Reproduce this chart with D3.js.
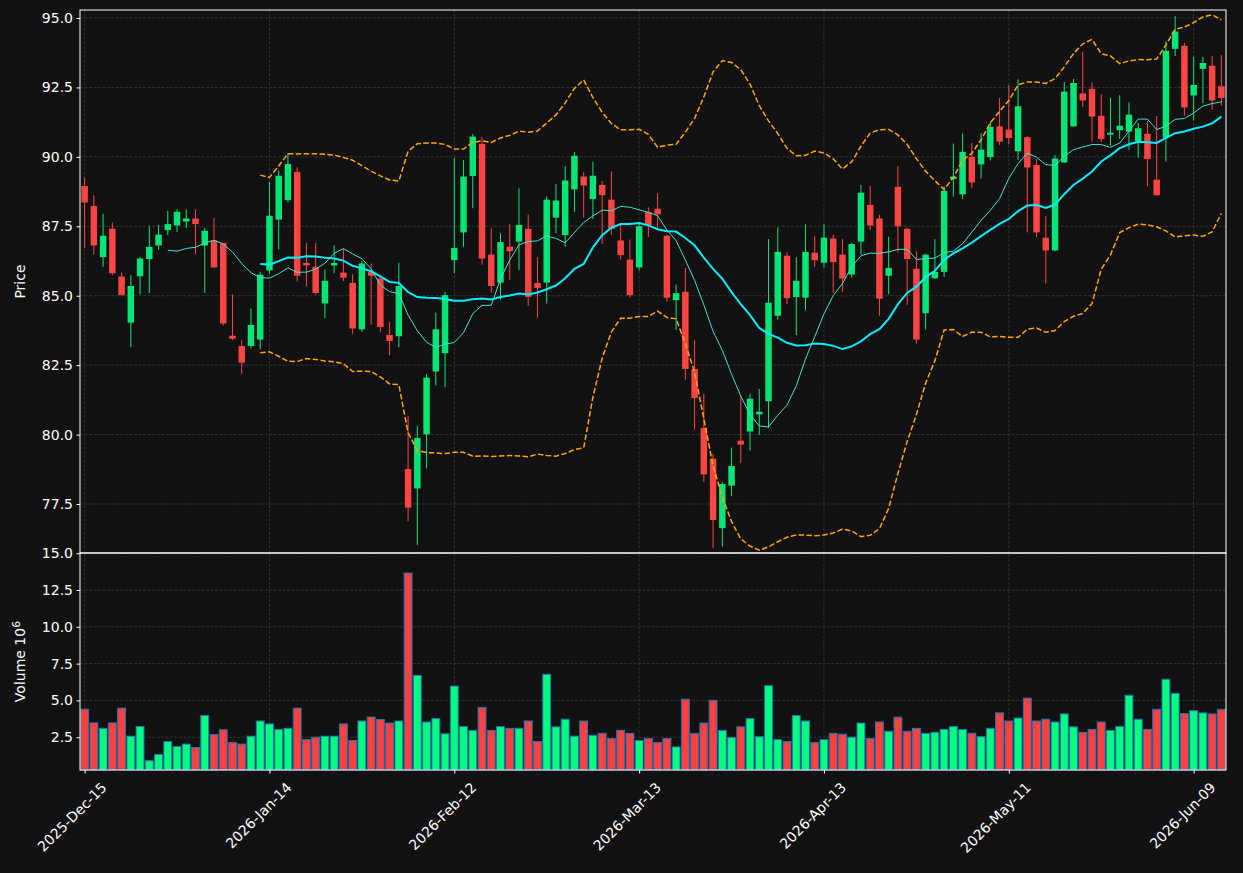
<!DOCTYPE html>
<html>
<head>
<meta charset="utf-8">
<script src="https://cdn.jsdelivr.net/npm/d3@7"></script>
<style>
  body { margin: 0; background: #111111; }
  text { font-family: "DejaVu Sans", sans-serif; }
</style>
</head>
<body>
<div id="chart"></div>
<script>
// daily bars, 2025-12-15 .. 2026-06-12 (trading days)
const opens = [88.95,88.23,86.39,87.41,85.69,84.03,85.70,86.32,86.81,87.36,
  87.53,87.67,87.78,86.81,86.99,86.90,83.56,83.19,83.19,83.42,
  85.91,87.74,88.44,89.46,86.18,86.04,84.72,86.09,85.83,85.46,
  83.79,85.86,85.62,83.59,83.54,78.76,78.06,80.01,82.27,82.93,
  86.28,87.28,89.31,90.47,86.48,85.47,86.76,86.95,87.41,85.46,
  85.47,87.81,87.18,88.83,89.29,88.48,88.99,88.46,86.99,86.30,
  86.02,88.02,88.13,87.16,84.84,85.14,82.36,80.24,79.13,76.63,
  78.16,79.78,80.11,80.73,81.20,84.28,86.44,84.95,84.93,86.55,
  86.19,87.06,86.48,85.76,86.95,88.27,87.78,85.72,88.92,87.41,
  85.97,84.37,85.63,85.86,89.20,88.65,90.00,89.73,89.99,91.10,
  90.98,90.20,90.71,89.71,87.09,86.63,89.80,91.10,92.28,92.45,
  91.48,90.80,90.96,90.91,90.55,90.83,89.18,90.69,93.89,94.00,
  92.21,93.17,93.28,92.54]
const highs = [89.24,88.62,87.95,87.64,85.84,85.74,86.40,87.50,87.55,88.06,
  88.11,88.11,88.11,87.44,87.79,86.90,85.05,83.40,84.54,85.86,
  89.10,89.50,90.11,89.62,86.90,86.90,85.95,86.81,86.69,85.77,
  86.25,86.16,85.76,84.05,86.19,80.68,80.32,82.17,84.39,85.14,
  89.96,89.88,90.83,90.71,87.43,87.25,87.58,88.87,87.92,86.39,
  88.57,89.02,89.67,90.17,89.46,89.83,89.13,89.48,87.55,87.02,
  87.64,88.18,88.69,87.20,85.40,86.00,83.40,81.48,79.31,78.29,
  79.53,81.41,81.47,81.64,87.04,87.46,86.56,86.39,87.58,87.16,
  87.58,87.20,87.04,86.90,88.99,88.95,87.92,87.13,89.67,87.45,
  86.60,86.51,87.04,88.94,90.48,90.85,90.50,90.85,91.26,92.12,
  92.59,92.79,90.75,89.92,87.86,90.06,92.70,92.80,93.79,92.68,
  92.26,92.12,92.22,91.96,91.22,91.29,91.47,94.16,95.07,94.10,
  93.61,93.61,93.63,93.66]
const lows = [86.72,86.48,86.04,85.74,85.02,83.15,85.05,85.10,86.65,87.18,
  87.30,87.44,86.51,85.10,86.02,83.93,83.40,82.19,83.10,83.07,
  85.80,86.67,88.36,85.51,85.33,85.05,84.19,85.81,85.53,83.63,
  83.70,83.96,83.70,82.85,83.14,76.88,76.02,78.78,81.77,81.71,
  85.81,86.77,88.15,86.12,85.10,84.86,85.56,85.93,84.63,84.21,
  84.72,87.25,86.76,88.02,87.81,87.76,86.86,87.20,86.30,84.93,
  85.90,87.11,87.44,84.79,83.77,81.98,80.18,78.29,75.91,75.97,
  77.78,78.97,79.43,79.99,80.24,84.14,84.70,83.58,84.47,86.04,
  86.02,85.10,85.14,85.65,86.48,87.36,84.28,85.05,86.55,84.67,
  83.28,83.79,85.60,85.67,88.57,88.48,88.87,89.22,89.87,90.43,
  90.45,89.89,87.28,87.11,85.44,86.60,89.78,91.08,91.80,90.55,
  90.54,90.41,90.64,90.25,89.97,88.94,88.60,89.82,93.63,91.48,
  91.31,91.94,91.71,91.85]
const closes = [88.36,86.81,87.16,85.81,85.02,85.35,86.34,86.76,87.20,87.58,
  88.02,87.78,87.58,87.34,86.02,84.00,83.45,82.59,83.95,85.76,
  87.88,89.32,89.74,85.72,86.09,85.10,85.54,86.18,85.65,83.82,
  86.16,85.72,83.87,83.37,85.35,77.37,79.88,82.05,83.79,85.02,
  86.72,89.29,90.73,86.34,85.35,86.93,86.60,87.55,84.96,85.28,
  88.46,88.43,89.15,90.04,88.97,89.32,88.62,87.41,86.46,85.02,
  87.50,87.53,87.93,84.93,85.09,82.36,81.31,78.57,76.92,78.22,
  78.87,79.64,81.29,80.82,84.75,86.58,84.91,85.54,86.58,86.28,
  87.09,86.21,85.62,86.86,88.71,87.53,84.89,86.00,87.50,86.32,
  83.42,86.48,85.86,88.78,89.29,90.18,89.08,90.26,91.08,90.55,
  90.68,91.82,89.62,87.28,86.63,89.94,92.35,92.66,92.03,91.45,
  90.64,90.87,91.12,91.52,91.03,89.92,88.62,93.82,94.51,91.78,
  92.59,93.38,92.03,92.12]
// volume in millions
const volumes = [4.40,3.47,3.10,3.47,4.47,2.57,3.23,0.90,1.33,2.20,
  1.87,2.03,1.80,3.97,2.67,3.00,2.13,2.03,2.57,3.60,
  3.40,3.03,3.10,4.47,2.33,2.50,2.57,2.57,3.40,2.27,
  3.60,3.87,3.70,3.46,3.60,13.65,6.70,3.53,3.76,2.73,
  5.97,3.22,2.96,4.52,2.96,3.22,3.10,3.10,3.60,2.20,
  6.77,3.20,3.72,2.57,3.60,2.63,2.76,2.40,2.96,2.76,
  2.27,2.40,2.13,2.40,1.84,5.08,2.76,3.46,5.00,2.96,
  2.47,3.20,3.76,2.53,6.00,2.33,2.20,3.96,3.60,2.13,
  2.33,2.76,2.70,2.50,3.46,2.40,3.53,2.90,3.86,2.90,
  3.10,2.76,2.83,3.03,3.22,3.03,2.76,2.53,3.10,4.15,
  3.60,3.80,5.15,3.60,3.72,3.53,4.08,3.20,2.83,3.03,
  3.53,2.96,3.22,5.35,3.72,3.03,4.39,6.44,5.48,4.10,
  4.30,4.15,4.08,4.39]
const tickIdx = [0, 20, 40, 60, 80, 100, 120]
const tickLabels = ['2025-Dec-15', '2026-Jan-14', '2026-Feb-12', '2026-Mar-13',
  '2026-Apr-13', '2026-May-11', '2026-Jun-09']
const priceTicks = [77.5, 80.0, 82.5, 85.0, 87.5, 90.0, 92.5, 95.0]
const volTicks = [2.5, 5.0, 7.5, 10.0, 12.5, 15.0]

const W = 1243, H = 873
const mLeft = 80, mRight = 1226, mTop = 10, mMid = 553, mBottom = 770
const upCandle = '#00e676', downCandle = '#ff4444'
const upVol = '#00ff7f', downVol = '#ff4040'
const gridColor = '#3a3a3a'

// rolling helpers (mav 10 / 20, bollinger 20, 2 sigma)
const rollMean = (arr, n) => arr.map((d, i) => i < n - 1 ? null : d3.mean(arr.slice(i - n + 1, i + 1)))
const rollStd = (arr, n) => arr.map((d, i) => {
  if (i < n - 1) return null
  const w = arr.slice(i - n + 1, i + 1), m = d3.mean(w)
  return Math.sqrt(d3.mean(w, v => (v - m) * (v - m)))
})
const ma10 = rollMean(closes, 10)
const ma20 = rollMean(closes, 20)
const sd20 = rollStd(closes, 20)
const bbUpper = ma20.map((m, i) => m == null ? null : m + 2 * sd20[i])
const bbLower = ma20.map((m, i) => m == null ? null : m - 2 * sd20[i])

const n = closes.length
const xScale = d3.scaleLinear().domain([-0.5, n - 0.5]).range([mLeft, mRight])
const yScale = d3.scaleLinear().domain([75.736, 95.288]).range([mMid, mTop])
const vScale = d3.scaleLinear()
  .domain([0.3 * d3.min(volumes), 1.1 * d3.max(volumes)])
  .range([mBottom, mMid])

const svg = d3.select('#chart').append('svg')
  .attr('width', W).attr('height', H)
  .style('background', '#111111')

svg.append('defs').append('clipPath').attr('id', 'clipP')
  .append('rect').attr('x', mLeft).attr('y', mTop).attr('width', mRight - mLeft).attr('height', mMid - mTop)

// grid
const gridG = svg.append('g')
  .attr('stroke', gridColor).attr('stroke-width', 0.8).attr('stroke-dasharray', '3,1.5')
priceTicks.forEach(t => gridG.append('line')
  .attr('x1', mLeft).attr('x2', mRight).attr('y1', yScale(t)).attr('y2', yScale(t)))
volTicks.forEach(t => gridG.append('line')
  .attr('x1', mLeft).attr('x2', mRight).attr('y1', vScale(t)).attr('y2', vScale(t)))
tickIdx.forEach(t => gridG.append('line')
  .attr('x1', xScale(t)).attr('x2', xScale(t)).attr('y1', mTop).attr('y2', mBottom))

// candles
const candleW = 0.7 * (xScale(1) - xScale(0))
const cG = svg.append('g').attr('clip-path', 'url(#clipP)')
const candle = cG.selectAll('.candle').data(d3.range(n)).enter().append('g')
candle.append('line')
  .attr('x1', i => xScale(i)).attr('x2', i => xScale(i))
  .attr('y1', i => yScale(highs[i])).attr('y2', i => yScale(lows[i]))
  .attr('stroke', i => closes[i] >= opens[i] ? upCandle : downCandle)
  .attr('stroke-width', 1)
candle.append('rect')
  .attr('x', i => xScale(i) - candleW / 2)
  .attr('width', candleW)
  .attr('y', i => yScale(Math.max(opens[i], closes[i])))
  .attr('height', i => Math.max(1, Math.abs(yScale(opens[i]) - yScale(closes[i]))))
  .attr('fill', i => closes[i] >= opens[i] ? upCandle : downCandle)

// moving averages
const line = d3.line()
  .defined(d => d.v != null)
  .x(d => xScale(d.i))
  .y(d => yScale(d.v))
const toPts = arr => arr.map((v, i) => ({i: i, v: v}))
cG.append('path').datum(toPts(ma10)).attr('d', line)
  .attr('fill', 'none').attr('stroke', '#40e0d0').attr('stroke-width', 1)
cG.append('path').datum(toPts(ma20)).attr('d', line)
  .attr('fill', 'none').attr('stroke', '#00eeff').attr('stroke-width', 2)
for (const band of [bbUpper, bbLower]) {
  cG.append('path').datum(toPts(band)).attr('d', line)
    .attr('fill', 'none').attr('stroke', '#ffa500').attr('stroke-width', 1.5)
    .attr('stroke-dasharray', '5.5,2.4')
}

// volume
const volW = 0.85 * (xScale(1) - xScale(0))
svg.append('g').selectAll('.vol').data(d3.range(n)).enter().append('rect')
  .attr('x', i => xScale(i) - volW / 2)
  .attr('width', volW)
  .attr('y', i => vScale(volumes[i]))
  .attr('height', i => mBottom - vScale(volumes[i]))
  .attr('fill', i => closes[i] >= opens[i] ? upVol : downVol)
  .attr('stroke', '#1f77b4').attr('stroke-width', 1)

// frames
const frame = svg.append('g').attr('fill', 'none').attr('stroke', '#ffffff').attr('stroke-width', 1)
frame.append('rect').attr('x', mLeft).attr('y', mTop).attr('width', mRight - mLeft).attr('height', mMid - mTop)
frame.append('rect').attr('x', mLeft).attr('y', mMid).attr('width', mRight - mLeft).attr('height', mBottom - mMid)

// axes
const fmt = d3.format('.1f')
const yAxisP = svg.append('g').attr('transform', `translate(${mLeft},0)`)
  .call(d3.axisLeft(yScale).tickValues(priceTicks).tickFormat(fmt).tickSize(3.5).tickPadding(3.5))
const yAxisV = svg.append('g').attr('transform', `translate(${mLeft},0)`)
  .call(d3.axisLeft(vScale).tickValues(volTicks).tickFormat(fmt).tickSize(3.5).tickPadding(3.5))
const xAxis = svg.append('g').attr('transform', `translate(0,${mBottom})`)
  .call(d3.axisBottom(xScale).tickValues(tickIdx).tickFormat((d, i) => tickLabels[i]).tickSize(3.5))
for (const ax of [yAxisP, yAxisV, xAxis]) {
  ax.select('.domain').remove()
  ax.selectAll('line').attr('stroke', '#ffffff')
  ax.selectAll('text').attr('fill', '#ffffff').style('font-size', '14px')
    .style('font-family', '"DejaVu Sans", sans-serif')
}
xAxis.selectAll('text')
  .attr('text-anchor', 'end')
  .attr('transform', 'translate(10,4) rotate(-45)')
  .attr('dy', '0.9em').attr('dx', '-0.1em')

// axis titles
svg.append('text')
  .attr('transform', `translate(25,${(mTop + mMid) / 2}) rotate(-90)`)
  .attr('text-anchor', 'middle')
  .attr('fill', '#ffffff').style('font-size', '14px')
  .text('Price')
const vLabel = svg.append('text')
  .attr('transform', `translate(25,${(mMid + mBottom) / 2}) rotate(-90)`)
  .attr('text-anchor', 'middle')
  .attr('fill', '#ffffff').style('font-size', '14px')
vLabel.append('tspan').text('Volume  10')
vLabel.append('tspan').attr('dy', '-0.5em').style('font-size', '11px').text('6')
</script>
</body>
</html>
